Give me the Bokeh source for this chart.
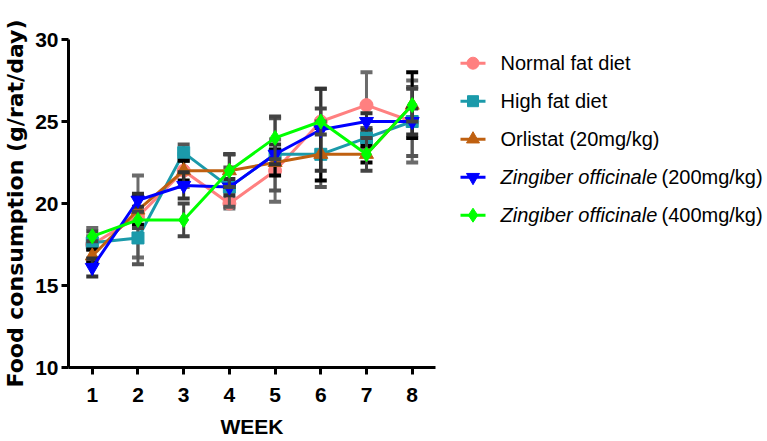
import numpy as np
from bokeh.plotting import figure
from bokeh.layouts import row
from bokeh.models import Range1d, FixedTicker
from bokeh.core.properties import value
from bokeh.embed import file_html
from bokeh.resources import INLINE

# ---------------- data ----------------
weeks = [1, 2, 3, 4, 5, 6, 7, 8]
x_tick_labels = ["1", "2", "3", "4", "5", "6", "7", "8"]
y_ticks = [10, 15, 20, 25, 30]
x_title = "WEEK"
y_title = "Food consumption (g/rat/day)"

series_names = [
    "Normal fat diet",
    "High fat diet",
    "Orlistat (20mg/kg)",
    "Zingiber officinale (200mg/kg)",
    "Zingiber officinale (400mg/kg)",
]
normal_mean = [17.5, 19.2, 22.0, 20.0, 22.0, 25.0, 26.0, 25.0]
high_mean = [17.6, 17.9, 23.1, 21.0, 23.0, 23.0, 24.0, 25.0]
orlistat_mean = [16.8, 19.6, 22.0, 22.0, 22.5, 23.0, 23.0, 26.0]
z200_mean = [16.1, 20.2, 21.1, 21.0, 23.0, 24.5, 25.0, 25.0]
z400_mean = [18.0, 19.0, 19.0, 22.0, 24.0, 25.0, 23.0, 26.0]

normal_sd = [1.0, 2.5, 1.0, 0.3, 1.9, 2.0, 2.0, 2.5]
high_sd = [0.4, 1.6, 0.5, 1.2, 2.2, 2.0, 0.6, 2.1]
orlistat_sd = [0.4, 0.9, 0.6, 1.0, 0.8, 1.6, 0.5, 2.0]
z200_sd = [0.55, 0.4, 0.8, 0.5, 0.6, 2.5, 0.5, 0.8]
z400_sd = [0.3, 0.5, 1.0, 1.0, 1.3, 0.8, 1.0, 1.0]

means = [normal_mean, high_mean, orlistat_mean, z200_mean, z400_mean]
sds = [normal_sd, high_sd, orlistat_sd, z200_sd, z400_sd]

# ---------------- styles ----------------
colors = ["#FF8080", "#1B9AAA", "#BF6010", "#0000FF", "#00FF00"]
err_colors = ["#6B6B6B", "#555555", "#000000", "#333333", "#444444"]
markers = ["circle", "square", "triangle", "inverted_triangle", "diamond"]
msizes = [13, 12, 14, 14, 15]

SANS = "Liberation Sans"
H = 441
BT, BB = 39, 74          # top / bottom borders (frame spans page y 39..367)

p = figure(width=440, height=H,
           x_range=Range1d(0.48, 8.51), y_range=Range1d(10, 30),
           output_backend="svg", toolbar_location=None,
           min_border_left=68, min_border_right=5,
           min_border_top=BT, min_border_bottom=BB)
p.outline_line_color = None
p.xgrid.visible = False
p.ygrid.visible = False
p.background_fill_color = None
p.border_fill_color = "white"

for i in range(5):
    m = np.array(means[i])
    s = np.array(sds[i])
    lo, hi = m - s, m + s
    p.segment(x0=weeks, y0=lo, x1=weeks, y1=hi, line_color=err_colors[i], line_width=3)
    p.scatter(weeks, hi, marker="dash", size=12, line_color=err_colors[i], line_width=4)
    p.scatter(weeks, lo, marker="dash", size=12, line_color=err_colors[i], line_width=4)
    p.line(weeks, m, line_color=colors[i], line_width=3)
    p.scatter(weeks, m, marker=markers[i], size=msizes[i],
              fill_color=colors[i], line_color=colors[i])

# axes
p.xaxis.ticker = FixedTicker(ticks=weeks)
p.xaxis.major_label_overrides = {w: t for w, t in zip(weeks, x_tick_labels)}
p.yaxis.ticker = FixedTicker(ticks=y_ticks)
for ax in (p.xaxis[0], p.yaxis[0]):
    ax.axis_line_width = 3
    ax.axis_line_color = "black"
    ax.major_tick_line_width = 3
    ax.major_tick_line_color = "black"
    ax.major_tick_out = 7
    ax.major_tick_in = 0
    ax.minor_tick_line_color = None
    ax.major_label_text_font = SANS
    ax.major_label_text_font_style = "bold"
    ax.major_label_text_color = "black"
    ax.major_label_text_font_size = "21px"

p.yaxis.major_label_standoff = 3
p.xaxis.major_label_standoff = 13

p.xaxis.axis_label = x_title
p.xaxis.axis_label_text_font = SANS
p.xaxis.axis_label_text_font_style = "bold"
p.xaxis.axis_label_text_font_size = "21px"
p.xaxis.axis_label_text_color = "black"
p.xaxis.axis_label_standoff = 10

p.yaxis.axis_label = y_title
p.yaxis.axis_label_text_font = "DejaVu Sans"
p.yaxis.axis_label_text_font_style = "bold"
p.yaxis.axis_label_text_font_size = "22px"
p.yaxis.axis_label_text_color = "black"
p.yaxis.axis_label_standoff = 4

# ---------------- legend panel ----------------
LW = 327
lg = figure(width=LW, height=H, x_range=Range1d(0, LW), y_range=Range1d(H - BB, BT),
            output_backend="svg", toolbar_location=None,
            x_axis_location=None, y_axis_location=None,
            min_border_left=0, min_border_right=0,
            min_border_top=BT, min_border_bottom=BB)
lg.outline_line_color = None
lg.xgrid.visible = False
lg.ygrid.visible = False

row_y0, row_dy = 62.7, 38.0
for i, name in enumerate(series_names):
    yy = row_y0 + i * row_dy
    lg.segment(x0=[20], y0=[yy], x1=[45], y1=[yy], line_color=colors[i], line_width=3)
    lg.scatter([32.5], [yy], marker=markers[i], size=msizes[i] - 1,
               fill_color=colors[i], line_color=colors[i])
    if name.startswith("Zingiber officinale"):
        ital = "Zingiber officinale"
        rest = name[len(ital):].strip()
        lg.text([60], [yy], text=[ital], text_font=value(SANS), text_font_size="20px",
                text_font_style="italic", text_baseline="middle", text_color="black")
        lg.text([221], [yy], text=[rest], text_font=value(SANS), text_font_size="20px",
                text_baseline="middle", text_color="black")
    else:
        lg.text([60], [yy], text=[name], text_font=value(SANS), text_font_size="20px",
                text_baseline="middle", text_color="black")

layout = row(p, lg)
open("out.html", "w").write(file_html(layout, INLINE))
